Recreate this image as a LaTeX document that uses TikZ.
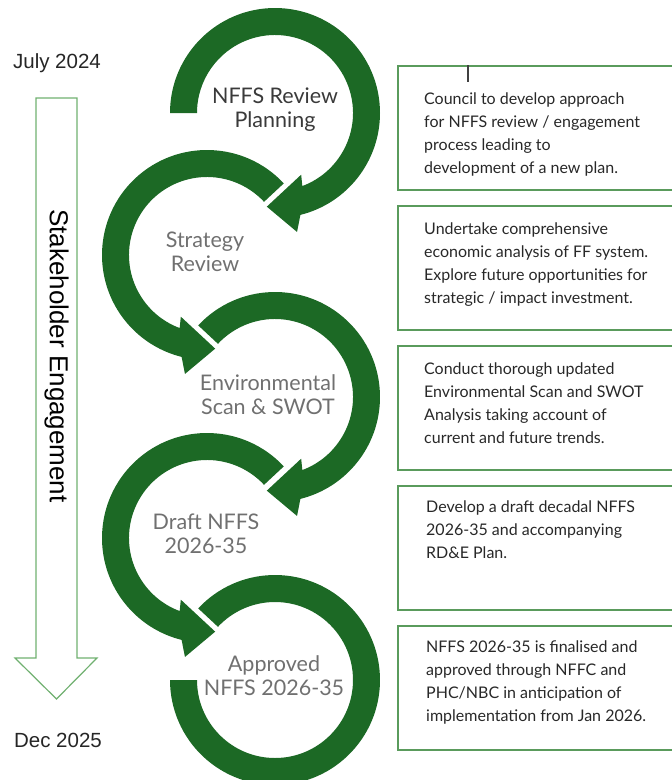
\documentclass[tikz,border=0pt]{standalone}
\usepackage{fontspec}
\setmainfont{Lato}
\newfontfamily\timefont{Liberation Sans}
\usetikzlibrary{calc,positioning}

\definecolor{ringgreen}{RGB}{28,105,37}
\definecolor{boxgreen}{RGB}{90,155,92}
\definecolor{flowgreen}{RGB}{112,176,112}
\definecolor{darklabel}{RGB}{58,58,58}
\definecolor{greylabel}{RGB}{112,112,112}
\definecolor{boxtextcol}{RGB}{40,40,40}

\tikzset{
  ring/.style={fill=ringgreen},
  steplabel/.style={align=center, font=\fontsize{21.5}{24}\selectfont, text=greylabel, inner sep=0pt},
  infobox/.style={draw=boxgreen, line width=1.5pt, anchor=north west, minimum width=300pt, minimum height=124pt, inner sep=0pt},
  infotext/.style={align=left, font=\fontsize{16}{23}\selectfont, text=boxtextcol, inner sep=0pt},
  timelabel/.style={font=\timefont\fontsize{20.5}{23}\selectfont, text=black!85},
  flowarrow/.style={draw=flowgreen, line width=1.2pt, line join=miter}
}

% circular arrow: #1 centre, #2 start angle, #3 head angle, #4 turn (1 clockwise, -1 anticlockwise)
\newcommand{\ringarrow}[4]{%
  \pgfmathsetmacro\shaftout{#3+(#4)*14}
  \pgfmathsetmacro\shaftin{#3+(#4)*20.5}
  \pgfmathsetmacro\barbout{#3+(#4)*10.5}
  \pgfmathsetmacro\barbin{#3+(#4)*23}
  \pgfmathsetmacro\tipang{#3-(#4)*5}
  \fill[ring] ($(#1)+(#2:105pt)$) arc[start angle=#2, end angle=\shaftout, radius=105pt]
    -- ($(#1)+(\barbout:121pt)$) -- ($(#1)+(\tipang:94pt)$)
    -- ($(#1)+(\barbin:67pt)$) -- ($(#1)+(\shaftin:78pt)$)
    arc[start angle=\shaftin, end angle=#2, radius=78pt] -- cycle;}

\begin{document}
\begin{tikzpicture}[x=1pt,y=1pt]
\path[use as bounding box] (0,0) rectangle (672,-780);
\clip (0,0) rectangle (672,-780);

% ring centres
\coordinate (c1) at (275,-113);
\coordinate (c2) at (207,-255);
\coordinate (c3) at (275,-397);
\coordinate (c4) at (207,-538);
\coordinate (c5) at (275,-680);

\ringarrow{c1}{180}{-90}{1}
\ringarrow{c2}{43}{270}{-1}
\ringarrow{c3}{137}{-90}{1}
\ringarrow{c4}{43}{270}{-1}
\fill[ring] ($(c5)+(137:105pt)$) arc[start angle=137, end angle=-180, radius=105pt]
  -- ($(c5)+(180:78pt)$) arc[start angle=-180, end angle=137, radius=78pt] -- cycle;

\node[steplabel, text=darklabel] (s1) at (275,-110) {NFFS Review\\Planning};
\node[steplabel] (s2) at (205,-252) {Strategy\\Review};
\node[steplabel] (s3) at (268,-395) {Environmental\\Scan \& SWOT};
\node[steplabel] (s4) at (206,-534) {Draft NFFS\\2026-35};
\node[steplabel] (s5) at (274,-676) {Approved\\NFFS 2026-35};

% timeline
\node[timelabel] (start) at (57,-63) {July 2024};
\node[timelabel] (finish) at (58,-740) {Dec 2025};
\draw[flowarrow] (36,-98) -- (77,-98) -- (77,-658) -- (97,-658) -- (56.5,-699)
  -- (15,-658) -- (36,-658) -- cycle;
\node[font=\timefont\fontsize{26}{28}\selectfont, rotate=-90] (engage) at (56.5,-356) {Stakeholder Engagement};

% description boxes
\node[infobox] (b1) at (397,-65) {};
\node[infobox, below=14.5pt of b1] (b2) {};
\node[infobox, below=14.5pt of b2] (b3) {};
\node[infobox, below=14.5pt of b3] (b4) {};
\node[infobox, below=14.5pt of b4] (b5) {};
\draw[line width=1.2pt, black!75] ([xshift=71pt]b1.north west) -- ++(0,-17pt);

\node[infotext, below right=28pt and 27pt of b1.north west] (t1)
  {Council to develop approach\\for NFFS review / engagement\\process leading to\\development of a new plan.};
\node[infotext, below right=18pt and 27pt of b2.north west] (t2)
  {Undertake comprehensive\\economic analysis of FF system.\\Explore future opportunities for\\strategic / impact investment.};
\node[infotext, below right=18pt and 27pt of b3.north west] (t3)
  {Conduct thorough updated\\Environmental Scan and SWOT\\Analysis taking account of\\current and future trends.};
\node[infotext, below right=16pt and 29pt of b4.north west] (t4)
  {Develop a draft decadal NFFS\\2026-35 and accompanying\\RD\&E Plan.};
\node[infotext, below right=16pt and 29pt of b5.north west] (t5)
  {NFFS 2026-35 is finalised and\\approved through NFFC and\\PHC/NBC in anticipation of\\implementation from Jan 2026.};
\end{tikzpicture}
\end{document}
